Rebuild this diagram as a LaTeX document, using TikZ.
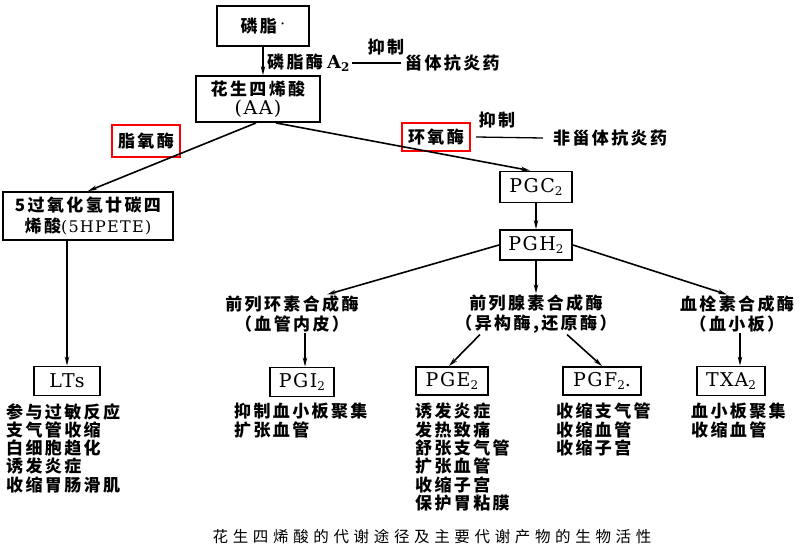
\documentclass[tikz,border=0pt]{standalone}
\usepackage{fontspec}
\setmainfont{Liberation Serif}
\newfontfamily\cjk[LetterSpace=14]{Noto Sans CJK SC}
\newfontfamily\cjkcap[LetterSpace=30]{Noto Sans CJK SC}
\newfontfamily\lat[LetterSpace=8]{DejaVu Serif}
\usetikzlibrary{arrows.meta}
\newcommand{\zh}[1]{{\cjk\bfseries #1}}
\newcommand{\la}[1]{{\fontsize{19}{21}\selectfont\lat #1}}
\newcommand{\sbt}[1]{\raisebox{-0.3ex}{\fontsize{12}{12}\selectfont #1}}
\begin{document}
\begin{tikzpicture}[x=1pt,y=-1pt,
  every node/.style={font=\fontsize{17}{20}\selectfont},
  box/.style={draw, line width=1.9pt, minimum height=30pt, inner sep=2pt, align=center},
  redbox/.style={draw=red, line width=2pt, inner sep=2pt},
  conn/.style={line width=1.6pt, -{Stealth[length=9pt,width=4.5pt]}},
  plain/.style={line width=1.3pt},
  lst/.style={anchor=north west, align=left, inner sep=0pt, font=\fontsize{17}{18.3}\selectfont\cjk\bfseries},
  lbl/.style={inner sep=0pt}
]
\useasboundingbox (0,0) rectangle (807,551);

% top
\node[box, minimum width=92pt, minimum height=40pt] (pl) at (263,26) {\zh{磷脂}\,\raisebox{3pt}{·}};
\node[box, minimum width=124pt, minimum height=46pt] (aa) at (258,99) {\zh{花生四烯酸}\\[-1pt]\la{(AA)}};
\node[lbl, anchor=west] (pla) at (267,63) {\zh{磷脂酶}\ {\fontsize{18}{20}\selectfont\lat\bfseries A\sbt{2}}};
\node[lbl] (yz1) at (386,47) {\zh{抑制}};
\node[lbl, anchor=west] (gz) at (405,63) {\zh{甾体抗炎药}};
\draw[plain] ([xshift=2pt]pla.east) -- ([xshift=-4pt]gz.west);
\draw[conn] (pl.south) -- (pl.south |- aa.north);

% enzymes from AA
\node[redbox, minimum width=68pt, minimum height=32pt] (lox) at (146,141) {\zh{脂氧酶}};
\node[redbox, minimum width=68pt, minimum height=27pt] (cox) at (436,137) {\zh{环氧酶}};
\node[lbl] (yz2) at (497,120) {\zh{抑制}};
\node[lbl, anchor=west] (fgz) at (553,138) {\zh{非甾体抗炎药}};
\draw[plain] ([xshift=5pt]cox.east) -- ([xshift=-10pt]fgz.west);

\node[box, minimum width=170pt, minimum height=48pt, font=\fontsize{17}{21}\selectfont] (hp) at (88,216) {\zh{5过氧化氢廿碳四}\\\zh{烯酸}{\fontsize{16}{20}\selectfont\lat(5HPETE)}};
\node[box, minimum width=72pt, minimum height=31pt] (pgc) at (536,187) {\la{PGC\sbt{2}}};
\node[box, minimum width=72pt, minimum height=30pt] (pgh) at (536,245) {\la{PGH\sbt{2}}};

\draw[conn] ([xshift=-2pt]aa.south) -- (hp.north);
\draw[conn] ([xshift=18pt]aa.south) -- ([xshift=-6pt]pgc.north);
\draw[conn] (pgc.south) -- (pgh.north);

% synthases
\node[align=center, inner sep=1pt] (e1) at (292,314) {\zh{前列环素合成酶}\\\zh{（血管内皮）}};
\node[align=center, inner sep=1pt] (e2) at (536,314) {\zh{前列腺素合成酶}\\\zh{（异构酶,还原酶）}};
\node[align=center, inner sep=1pt] (e3) at (737,314) {\zh{血栓素合成酶}\\\zh{（血小板）}};

\draw[conn] (pgh.west) -- ([xshift=35pt]e1.north);
\draw[conn] (pgh.south) -- (e2.north);
\draw[conn] (pgh.east) -- ([xshift=-10pt]e3.north);

% products
\node[box, minimum width=66pt, minimum height=29pt] (lts) at (67,381) {\la{LTs}};
\node[box, minimum width=64pt, minimum height=29pt] (pgi) at (302,382) {\la{PGI\sbt{2}}};
\node[box, minimum width=72pt, minimum height=28pt] (pge) at (452,381) {\la{PGE\sbt{2}}};
\node[box, minimum width=78pt, minimum height=28pt] (pgf) at (602,381) {\la{PGF\sbt{2}.}};
\node[box, minimum width=68pt, minimum height=29pt] (txa) at (731,381) {\la{TXA\sbt{2}}};

\draw[conn] (lts.north |- hp.south) -- (lts.north);
\draw[conn] ([xshift=3pt]pgi.north |- e1.south) -- ([xshift=3pt]pgi.north);
\draw[conn] ([xshift=-56pt]e2.south) -- ([xshift=-3pt]pge.north);
\draw[conn] ([xshift=31pt]e2.south) -- (pgf.north);
\draw[conn] ([xshift=9pt]txa.north |- e3.south) -- ([xshift=9pt]txa.north);

% activity lists
\node[lst] (l1) at (6,403) {参与过敏反应\\支气管收缩\\白细胞趋化\\诱发炎症\\收缩胃肠滑肌};
\node[lst] (l2) at (234,403) {抑制血小板聚集\\扩张血管};
\node[lst] (l3) at (415,403) {诱发炎症\\发热致痛\\舒张支气管\\扩张血管\\收缩子宫\\保护胃粘膜};
\node[lst] (l4) at (556,403) {收缩支气管\\收缩血管\\收缩子宫};
\node[lst] (l5) at (691,403) {血小板聚集\\收缩血管};

% caption
\node[font=\fontsize{15.5}{18}\selectfont\cjkcap] (cap) at (432,537) {花生四烯酸的代谢途径及主要代谢产物的生物活性};
\end{tikzpicture}
\end{document}
